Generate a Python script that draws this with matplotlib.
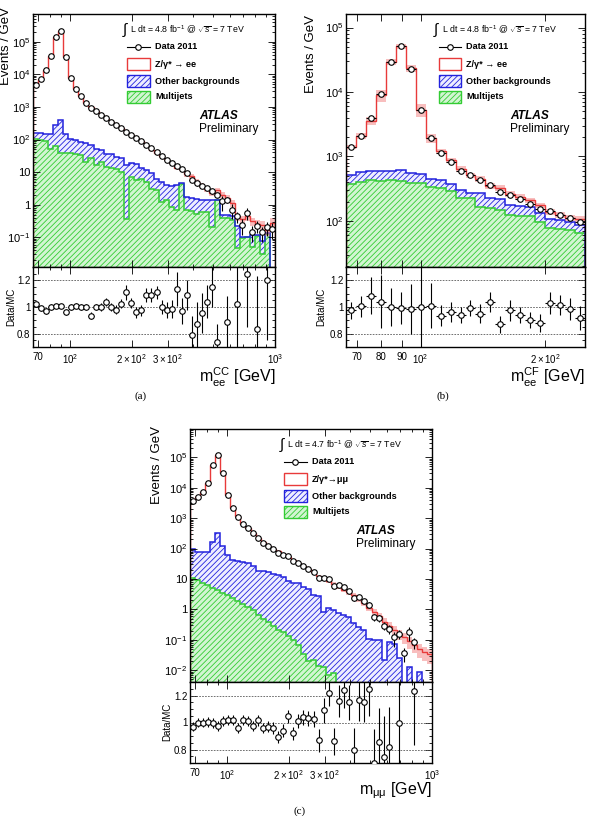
import numpy as np
import matplotlib
matplotlib.use("Agg")
import matplotlib.pyplot as plt
from matplotlib.patches import Rectangle
from matplotlib.ticker import FixedLocator, FixedFormatter, LogLocator, NullFormatter, MultipleLocator

plt.rcParams['font.family'] = ['Liberation Sans', 'DejaVu Sans']
plt.rcParams['mathtext.fontset'] = 'custom'
plt.rcParams['mathtext.rm'] = 'Liberation Sans'
plt.rcParams['mathtext.it'] = 'Liberation Sans:italic'
plt.rcParams['mathtext.bf'] = 'Liberation Sans:bold'
plt.rcParams['hatch.linewidth'] = 0.6

W, H = 592, 816
nan = np.nan

## all main-panel values are log10(Events / GeV)

# (a) m_ee CC, 48 log bins 66 - 1000 GeV
a_edges = np.logspace(np.log10(66), 3, 49)
a_data = [3.67, 3.85, 4.13, 4.56, 5.15, 5.34, 4.52, 3.89, 3.56, 3.32,
          3.11, 2.98, 2.86, 2.76, 2.65, 2.54, 2.44, 2.35, 2.24, 2.14,
          2.04, 1.94, 1.84, 1.73, 1.62, 1.48, 1.38, 1.28, 1.19, 1.09,
          0.97, 0.77, 0.66, 0.58, 0.51, 0.41, 0.31, 0.10, 0.15, -0.15,
          -0.36, -0.62, -0.26, -0.84, -0.66, -0.85, -0.69, -0.75]
a_total = [3.66, 3.85, 4.14, 4.56, 5.15, 5.34, 4.54, 3.89, 3.56, 3.32,
           3.11, 3.01, 2.86, 2.76, 2.63, 2.54, 2.45, 2.34, 2.19, 2.13,
           2.06, 1.95, 1.80, 1.69, 1.58, 1.48, 1.39, 1.29, 1.14, 1.10,
           0.93, 0.87, 0.72, 0.60, 0.49, 0.35, 0.44, 0.30, 0.20, 0.05,
           -0.37, -0.45, -0.36, -0.50, -0.58, -0.62, -0.77, -0.55]
a_bkg = [2.20, 2.20, 2.16, 2.16, 2.44, 2.61, 2.16, 2.03, 1.98, 1.93,
         1.88, 1.82, 1.72, 1.67, 1.57, 1.57, 1.47, 1.42, 1.21, 1.28,
         1.24, 1.14, 1.08, 0.96, 0.80, 0.70, 0.62, 0.58, 0.60, 0.66,
         0.24, 0.20, 0.17, 0.14, 0.14, 0.16, 0.16, -0.30, -0.33, -0.35,
         -0.66, -1.00, -0.98, -0.92, -0.92, -1.10, -0.88, -2.50]
a_multi = [2.03, 2.00, 1.96, 1.70, 1.80, 1.59, 1.59, 1.58, 1.55, 1.53,
           1.31, 1.42, 1.21, 1.31, 1.16, 1.14, 1.11, 1.01, -0.44, 0.85,
           0.75, 0.80, 0.70, 0.49, 0.44, 0.09, 0.14, -0.07, -0.17, 0.65,
           -0.17, -0.20, -0.27, -0.22, -0.22, -0.68, 0.16, -0.42, -0.42, -0.47,
           -1.33, -1.02, -1.00, -1.30, -0.97, -1.50, -0.90, -2.50]
a_band = [0.04, 0.04, 0.04, 0.04, 0.04, 0.04, 0.04, 0.04, 0.04, 0.04,
          0.04, 0.04, 0.04, 0.05, 0.05, 0.05, 0.05, 0.05, 0.06, 0.06,
          0.06, 0.06, 0.07, 0.07, 0.08, 0.08, 0.09, 0.09, 0.10, 0.12,
          0.15, 0.15, 0.16, 0.16, 0.18, 0.18, 0.20, 0.20, 0.22, 0.22,
          0.25, 0.25, 0.28, 0.28, 0.30, 0.30, 0.35, 0.35]
a_ratio = [1.02, 0.99, 0.97, 1.00, 1.01, 1.005, 0.96, 1.00, 1.01, 1.00,
           1.00, 0.935, 1.00, 1.00, 1.04, 1.00, 0.98, 1.025, 1.11, 1.03,
           0.96, 0.975, 1.09, 1.09, 1.11, 1.00, 0.975, 0.985, 1.135, 0.97,
           1.09, 0.79, 0.87, 0.955, 1.04, 1.15, 0.735, nan, 0.885, nan,
           1.025, nan, 1.25, nan, 0.835, nan, 1.20, nan]
a_rerr = [0.02, 0.02, 0.02, 0.02, 0.015, 0.015, 0.02, 0.02, 0.02, 0.02,
          0.025, 0.025, 0.025, 0.03, 0.03, 0.03, 0.035, 0.035, 0.055, 0.04,
          0.04, 0.04, 0.05, 0.05, 0.05, 0.055, 0.06, 0.065, 0.13, 0.10,
          0.11, 0.14, 0.17, 0.15, 0.125, 0.15, 0.14, nan, 0.20, nan,
          0.35, nan, 0.40, nan, 0.40, nan, 0.45, nan]

# (b) m_ee CF, 24 log bins 66 - 250 GeV
b_edges = np.logspace(np.log10(66), np.log10(250), 25)
b_data = [3.14, 3.32, 3.59, 3.97, 4.47, 4.71, 4.36, 3.72, 3.28, 3.05,
          2.92, 2.78, 2.71, 2.63, 2.56, 2.45, 2.41, 2.34, 2.27, 2.18,
          2.15, 2.10, 2.04, 1.99]
b_total = [3.15, 3.32, 3.555, 3.95, 4.47, 4.71, 4.37, 3.72, 3.28, 3.08,
           2.94, 2.81, 2.71, 2.65, 2.54, 2.51, 2.42, 2.37, 2.32, 2.24,
           2.14, 2.09, 2.05, 2.03]
b_bkg = [2.71, 2.76, 2.77, 2.77, 2.78, 2.79, 2.74, 2.73, 2.65, 2.63,
         2.58, 2.48, 2.44, 2.44, 2.35, 2.34, 2.25, 2.23, 2.21, 2.13,
         2.03, 2.02, 1.99, 1.94]
b_multi = [2.58, 2.61, 2.63, 2.62, 2.63, 2.62, 2.59, 2.59, 2.52, 2.51,
           2.47, 2.35, 2.35, 2.22, 2.20, 2.17, 2.10, 2.08, 2.07, 1.98,
           1.89, 1.87, 1.86, 1.81]
b_band = [0.08, 0.10, 0.15, 0.22, 0.12, 0.10, 0.12, 0.22, 0.16, 0.10,
          0.10, 0.10, 0.10, 0.10, 0.10, 0.10, 0.10, 0.10, 0.10, 0.10,
          0.10, 0.10, 0.10, 0.10]
b_ratio = [0.975, 1.005, 1.085, 1.04, 1.00, 0.99, 0.985, 1.00, 1.01, 0.935,
           0.96, 0.94, 0.99, 0.95, 1.04, 0.87, 0.975, 0.94, 0.90, 0.88,
           1.03, 1.015, 0.985, 0.915]
b_rerr = [0.065, 0.08, 0.14, 0.20, 0.14, 0.12, 0.19, 0.50, 0.17, 0.08,
          0.075, 0.06, 0.06, 0.07, 0.075, 0.065, 0.08, 0.06, 0.06, 0.07,
          0.08, 0.075, 0.08, 0.09]

# (c) m_mumu, 48 log bins 66 - 1000 GeV
c_edges = np.logspace(np.log10(66), 3, 49)
c_data = [3.57, 3.71, 3.87, 4.15, 4.75, 5.08, 4.48, 3.77, 3.34, 3.05,
          2.82, 2.67, 2.50, 2.35, 2.19, 2.09, 1.98, 1.87, 1.80, 1.74,
          1.59, 1.52, 1.44, 1.33, 1.23, 1.04, 1.04, 1.01, 0.77, 0.80,
          0.73, 0.62, 0.36, 0.41, 0.28, 0.15, -0.24, -0.29, -0.53, -0.64,
          -0.92, -0.80, -1.43, -0.74, -1.07, nan, nan, nan]
c_total = [3.58, 3.71, 3.87, 4.15, 4.75, 5.09, 4.48, 3.76, 3.33, 3.07,
           2.81, 2.67, 2.51, 2.34, 2.21, 2.10, 2.00, 1.92, 1.83, 1.72,
           1.63, 1.52, 1.42, 1.32, 1.22, 1.10, 1.00, 0.92, 0.84, 0.74,
           0.64, 0.56, 0.46, 0.34, 0.22, 0.05, -0.08, -0.22, -0.40, -0.55,
           -0.68, -0.80, -0.92, -1.05, -1.16, -1.30, -1.40, -1.48]
c_bkg = [1.98, 1.90, 1.88, 1.88, 2.23, 2.50, 2.08, 1.78, 1.62, 1.58,
         1.55, 1.52, 1.42, 1.25, 1.25, 1.22, 1.18, 1.12, 1.06, 0.92,
         0.86, 0.88, 0.74, 0.66, 0.48, 0.45, -0.08, 0.06, -0.02, -0.13,
         -0.19, -0.26, -0.46, -0.57, -0.68, -0.96, -1.01, -1.01, -1.67, -1.07,
         -1.12, -1.61, -2.60, -1.90, -2.60, -2.05, -2.60, -2.60]
c_multi = [1.02, 0.97, 0.88, 0.80, 0.72, 0.64, 0.55, 0.47, 0.36, 0.28,
           0.17, 0.09, -0.02, -0.19, -0.30, -0.41, -0.55, -0.66, -0.74, -0.88,
           -1.01, -1.18, -1.45, -1.70, -1.67, -1.85, -1.90, -2.15, -2.10, -3.0,
           -3.0, -3.0, -3.0, -3.0, -3.0, -3.0, -3.0, -3.0, -3.0, -3.0,
           -3.0, -3.0, -3.0, -3.0, -3.0, -3.0, -3.0, -3.0]
c_band = [0.04, 0.04, 0.04, 0.04, 0.04, 0.04, 0.04, 0.04, 0.04, 0.04,
          0.04, 0.04, 0.04, 0.05, 0.05, 0.05, 0.05, 0.05, 0.06, 0.06,
          0.06, 0.06, 0.07, 0.07, 0.08, 0.08, 0.09, 0.10, 0.11, 0.12,
          0.14, 0.15, 0.16, 0.18, 0.20, 0.22, 0.24, 0.26, 0.30, 0.32,
          0.35, 0.38, 0.40, 0.42, 0.45, 0.48, 0.50, 0.50]
c_ratio = [0.97, 1.00, 1.00, 1.005, 0.995, 0.975, 1.01, 1.02, 1.02, 0.96,
           1.02, 1.01, 0.975, 1.015, 0.96, 0.97, 0.96, 0.89, 0.94, 1.045,
           0.92, 1.01, 1.04, 1.03, 1.025, 0.87, 1.09, 1.22, 0.86, 1.16,
           1.24, 1.15, 0.80, 1.17, 1.155, 1.25, 0.70, 0.855, 0.745, 0.815,
           nan, 1.00, nan, nan, 1.23, nan, nan, nan]
c_rerr = [0.035, 0.035, 0.035, 0.035, 0.035, 0.035, 0.035, 0.035, 0.035, 0.035,
          0.035, 0.035, 0.035, 0.04, 0.04, 0.04, 0.045, 0.045, 0.05, 0.05,
          0.05, 0.05, 0.055, 0.055, 0.06, 0.085, 0.09, 0.10, 0.10, 0.12,
          0.13, 0.13, 0.16, 0.16, 0.15, 0.20, 0.25, 0.25, 0.30, 0.30,
          nan, 0.35, nan, nan, 0.40, nan, nan, nan]

RED = '#e83a3a'
BLUE = '#2222dd'
GREEN = '#33cc33'
BLUE_FILL = '#eeeeff'
GREEN_FILL = '#d2f5d2'


def px_axes(fig, x0, y0, x1, y1):
	return fig.add_axes([x0 / W, 1 - y1 / H, (x1 - x0) / W, (y1 - y0) / H])


def fig_text(fig, x, y, s, **kw):
	fig.text(x / W, 1 - y / H, s, **kw)


def style_axis(ax):
	ax.tick_params(which='both', direction='in', top=True, right=True, width=0.6, labelsize=7)
	ax.tick_params(which='major', length=5)
	ax.tick_params(which='minor', length=2.5)
	for sp in ax.spines.values():
		sp.set_linewidth(1.0)


def legend_block(ax, lumi, zlabel):
	tr = ax.transAxes
	# big integral sign, then the luminosity text
	ax.text(0.366, 0.935, r'$\int$', transform=tr, fontsize=11, va='center', ha='left')
	ax.text(0.40, 0.937, 'L dt = %s fb$^{-1}$ @ $\\sqrt{s}$ = 7 TeV' % lumi,
			transform=tr, fontsize=6.3, va='center', ha='left')
	rows = [0.870, 0.802, 0.735, 0.672]
	x0, w, h = 0.388, 0.095, 0.047
	ax.plot([x0, x0 + w], [rows[0], rows[0]], color='black', lw=0.8, transform=tr, clip_on=False)
	ax.plot([x0 + w / 2], [rows[0]], 'o', mfc='white', mec='black', ms=4, mew=0.8, transform=tr, clip_on=False)
	ax.add_patch(Rectangle((x0, rows[1] - h / 2), w, h, transform=tr, facecolor='white',
						   edgecolor=RED, lw=1.0))
	ax.add_patch(Rectangle((x0, rows[2] - h / 2), w, h, transform=tr, facecolor=BLUE_FILL,
						   edgecolor=BLUE, hatch='//////', lw=1.0))
	ax.add_patch(Rectangle((x0, rows[3] - h / 2), w, h, transform=tr, facecolor=GREEN_FILL,
						   edgecolor=GREEN, hatch='//////', lw=1.0))
	labels = ['Data 2011', zlabel, 'Other backgrounds', 'Multijets']
	for y, lab in zip(rows, labels):
		ax.text(0.504, y, lab, transform=tr, fontsize=6.6, fontweight='bold', va='center', ha='left')
	ax.text(0.686, 0.597, 'ATLAS', transform=tr, fontsize=8.6, fontweight='bold', style='italic', va='center')
	ax.text(0.686, 0.545, 'Preliminary', transform=tr, fontsize=8.6, va='center')


def draw_panel(fig, main_px, ratio_px, edges, data, total, bkg, multi, band, ratio, rerr,
			   ylog, yticks, ylabels, xticks, xlabels, show_data_err, lumi, zlabel):
	ax = px_axes(fig, *main_px)
	axr = px_axes(fig, *ratio_px)

	d = 10 ** np.array(data)
	t = 10 ** np.array(total)
	o = 10 ** np.array(bkg)
	g = 10 ** np.array(multi)
	u = np.array(band)
	r = np.array(ratio)
	re = np.array(rerr)
	floor = 10 ** (ylog[0] - 2)

	centers = np.sqrt(edges[:-1] * edges[1:])
	xerr = [centers - edges[:-1], edges[1:] - centers]

	# stacked backgrounds: multijet at the bottom, other backgrounds on top
	ax.stairs(g, edges, baseline=floor, fill=True, facecolor=GREEN_FILL, edgecolor=GREEN,
			  hatch='//////', lw=0)
	ax.stairs(o, edges, baseline=g, fill=True, facecolor=BLUE_FILL, edgecolor=BLUE,
			  hatch='//////', lw=0)
	ax.stairs(g, edges, color=GREEN, lw=1.1)
	ax.stairs(o, edges, color=BLUE, lw=1.1)
	ax.stairs(t * (1 + u), edges, baseline=t * (1 - u), fill=True, color='#f07070', alpha=0.45, lw=0)
	ax.stairs(t, edges, color=RED, lw=1.0)

	if show_data_err:
		rel = np.nan_to_num(re, nan=0.5)
		yerr = [d * np.minimum(rel, 0.9), d * rel]
	else:
		yerr = None
	ax.errorbar(centers, d, xerr=xerr, yerr=yerr, fmt='o', mfc='white', mec='black', ms=4,
				mew=0.8, color='black', elinewidth=0.8, capsize=0, zorder=5)

	ax.set_xscale('log')
	ax.set_yscale('log')
	ax.set_xlim(edges[0], edges[-1])
	ax.set_ylim(10 ** ylog[0], 10 ** ylog[1])
	ax.yaxis.set_major_locator(FixedLocator(yticks))
	ax.yaxis.set_major_formatter(FixedFormatter(ylabels))
	ax.yaxis.set_minor_locator(LogLocator(base=10, subs=np.arange(2, 10) * 1.0, numticks=100))
	ax.yaxis.set_minor_formatter(NullFormatter())
	style_axis(ax)
	ax.tick_params(axis='y', pad=2, labelsize=8)

	for a in (ax, axr):
		a.set_xscale('log')
		a.set_xlim(edges[0], edges[-1])
		a.xaxis.set_major_locator(FixedLocator(xticks))
		a.xaxis.set_minor_locator(LogLocator(base=10, subs=np.arange(1, 10) * 1.0, numticks=100))
		a.xaxis.set_minor_formatter(NullFormatter())
	ax.xaxis.set_major_formatter(NullFormatter())
	axr.xaxis.set_major_formatter(FixedFormatter(xlabels))

	for lvl in (0.8, 1.0, 1.2):
		axr.axhline(lvl, color='0.35', lw=0.6, ls=(0, (2, 1.5)))
	axr.errorbar(centers, r, xerr=xerr, yerr=re, fmt='o', mfc='white', mec='black', ms=4,
				 mew=0.8, color='black', elinewidth=0.8, capsize=0, zorder=5)
	axr.set_ylim(0.7, 1.3)
	axr.yaxis.set_major_locator(FixedLocator([0.8, 1.0, 1.2]))
	axr.yaxis.set_major_formatter(FixedFormatter(['0.8', '1', '1.2']))
	axr.yaxis.set_minor_locator(MultipleLocator(0.05))
	style_axis(axr)
	axr.tick_params(axis='y', pad=2)
	axr.tick_params(axis='x', pad=3.5)

	legend_block(ax, lumi, zlabel)
	return ax, axr


fig = plt.figure(figsize=(W / 100, H / 100), dpi=100)

tick_full = [0.01, 0.1, 1, 10, 100, 1e3, 1e4, 1e5]
lab_full = [r'$10^{-2}$', r'$10^{-1}$', '1', '10', r'$10^{2}$', r'$10^{3}$', r'$10^{4}$', r'$10^{5}$']
x_wide = [70, 100, 200, 300, 1000]
x_wide_lab = ['70', r'$10^{2}$', r'$2\times10^{2}$', r'$3\times10^{2}$', r'$10^{3}$']

draw_panel(fig, (33, 14, 275, 267), (33, 267, 275, 347), a_edges, a_data, a_total, a_bkg, a_multi,
		   a_band, a_ratio, a_rerr, (-1.91, 5.85), tick_full[1:], lab_full[1:], x_wide, x_wide_lab,
		   True, '4.8', 'Z/γ* → ee')
draw_panel(fig, (346, 14, 585, 267), (346, 267, 585, 347), b_edges, b_data, b_total, b_bkg, b_multi,
		   b_band, b_ratio, b_rerr, (1.286, 5.21), tick_full[4:], lab_full[4:],
		   [70, 80, 90, 100, 200], ['70', '80', '90', r'$10^{2}$', r'$2\times10^{2}$'],
		   False, '4.8', 'Z/γ* → ee')
draw_panel(fig, (190, 429, 432, 682), (190, 682, 432, 763), c_edges, c_data, c_total, c_bkg, c_multi,
		   c_band, c_ratio, c_rerr, (-2.385, 5.93), tick_full, lab_full, x_wide, x_wide_lab,
		   True, '4.7', 'Z/γ*→μμ')

# axis titles
fig_text(fig, 6, 46, 'Events / GeV', rotation=90, ha='center', va='center', fontsize=9.5)
fig_text(fig, 311, 54, 'Events / GeV', rotation=90, ha='center', va='center', fontsize=9.5)
fig_text(fig, 157, 465, 'Events / GeV', rotation=90, ha='center', va='center', fontsize=9.5)
fig_text(fig, 11, 307, 'Data/MC', rotation=90, ha='center', va='center', fontsize=7)
fig_text(fig, 321, 307, 'Data/MC', rotation=90, ha='center', va='center', fontsize=7)
fig_text(fig, 167, 722, 'Data/MC', rotation=90, ha='center', va='center', fontsize=7)
fig_text(fig, 275, 377, r'm$_{\mathrm{ee}}^{\mathrm{CC}}$ [GeV]', ha='right', va='center', fontsize=11.5)
fig_text(fig, 585, 377, r'm$_{\mathrm{ee}}^{\mathrm{CF}}$ [GeV]', ha='right', va='center', fontsize=11.5)
fig_text(fig, 432, 791, r'm$_{\mathrm{μμ}}$ [GeV]', ha='right', va='center', fontsize=11.5)

fig_text(fig, 141, 396, '(a)', ha='center', va='center', fontsize=8, family='Liberation Serif')
fig_text(fig, 443, 396, '(b)', ha='center', va='center', fontsize=8, family='Liberation Serif')
fig_text(fig, 300, 811, '(c)', ha='center', va='center', fontsize=8, family='Liberation Serif')

fig.savefig('out.png', dpi=100)
